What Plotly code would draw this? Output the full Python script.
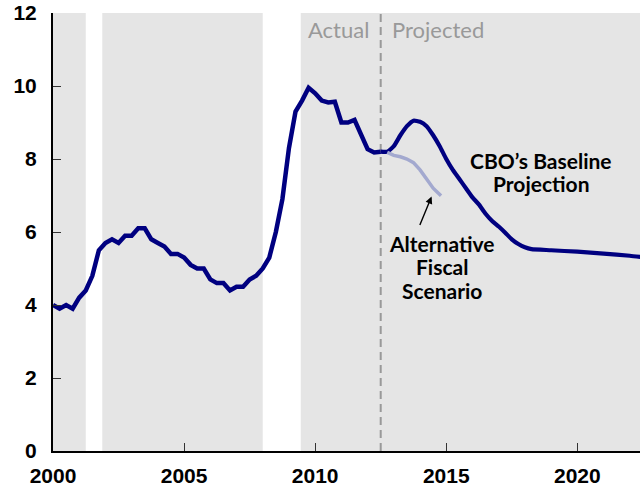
import plotly.graph_objects as go

# ---- data ----
actual_start_year = 2000
actual_rate = [
    4.0, 3.9, 4.0, 3.9,   # 2000
    4.2, 4.4, 4.8, 5.5,   # 2001
    5.7, 5.8, 5.7, 5.9,   # 2002
    5.9, 6.1, 6.1, 5.8,   # 2003
    5.7, 5.6, 5.4, 5.4,   # 2004
    5.3, 5.1, 5.0, 5.0,   # 2005
    4.7, 4.6, 4.6, 4.4,   # 2006
    4.5, 4.5, 4.7, 4.8,   # 2007
    5.0, 5.3, 6.0, 6.9,   # 2008
    8.3, 9.3, 9.6, 9.95,  # 2009
    9.8, 9.6, 9.55, 9.57, # 2010
    9.0, 9.0, 9.07, 8.7,  # 2011
    8.27, 8.18, 8.2,      # 2012
]
actual_x = [actual_start_year + i / 4 for i in range(len(actual_rate))]

baseline_x = [2012.5, 2012.75, 2013.0, 2013.25, 2013.5, 2013.75, 2014.0, 2014.25,
              2014.5, 2014.75, 2015.0, 2015.25, 2015.5, 2015.75, 2016.0, 2016.25,
              2016.5, 2016.75, 2017.0, 2017.25, 2017.5, 2017.75, 2018.0, 2018.25,
              2019.0, 2020.0, 2021.0, 2022.0, 2022.5]
baseline_rate = [8.2, 8.2, 8.35, 8.65, 8.9, 9.05, 9.02, 8.9,
                 8.65, 8.35, 8.0, 7.7, 7.45, 7.2, 6.95, 6.75,
                 6.5, 6.3, 6.15, 5.98, 5.8, 5.67, 5.58, 5.53,
                 5.5, 5.46, 5.41, 5.35, 5.31]

alt_x = [2012.75, 2013.0, 2013.25, 2013.5, 2013.75, 2014.0, 2014.25, 2014.5, 2014.8]
alt_rate = [8.18, 8.1, 8.06, 8.0, 7.9, 7.7, 7.45, 7.2, 6.99]

shaded_periods = [(2000.0, 2001.25), (2001.88, 2008.0), (2009.45, 2022.4)]
split_year = 2012.5

x_ticks = [2000, 2005, 2010, 2015, 2020]
y_ticks = [0, 2, 4, 6, 8, 10, 12]

baseline_label_lines = ["CBO’s Baseline", "Projection"]
alt_label_lines = ["Alternative", "Fiscal", "Scenario"]

NAVY = "#000080"
ALT = "#a3a9cf"
GRAY_BG = "#e5e5e5"

fig = go.Figure()

fig.add_trace(go.Scatter(x=actual_x, y=actual_rate, mode="lines",
                         line=dict(color=NAVY, width=4.5), hoverinfo="skip"))
fig.add_trace(go.Scatter(x=baseline_x, y=baseline_rate, mode="lines",
                         line=dict(color=NAVY, width=4.2, shape="spline", smoothing=0.5),
                         hoverinfo="skip"))
fig.add_trace(go.Scatter(x=alt_x, y=alt_rate, mode="lines",
                         line=dict(color=ALT, width=3.5), hoverinfo="skip"))

for x0, x1 in shaded_periods:
    fig.add_shape(type="rect", x0=x0, x1=x1, y0=0, y1=12, xref="x", yref="y",
                  fillcolor=GRAY_BG, line=dict(width=0), layer="below")

fig.add_shape(type="line", x0=split_year, x1=split_year, y0=0, y1=12,
              xref="x", yref="y", line=dict(color="#999999", width=2, dash="8px,5px"),
              layer="below")

fig.add_annotation(x=split_year, y=11.55, xref="x", yref="y", text="Actual",
                   showarrow=False, xanchor="right", xshift=-10,
                   font=dict(family="Lato", size=22, color="#999999"))
fig.add_annotation(x=split_year, y=11.55, xref="x", yref="y", text="Projected",
                   showarrow=False, xanchor="left", xshift=9,
                   font=dict(family="Lato", size=22, color="#999999"))

label_font = dict(family="Lato", size=21, color="#000000", weight="bold")
for line_text, yv in zip(baseline_label_lines, [7.97, 7.33]):
    fig.add_annotation(x=2018.62, y=yv, xref="x", yref="y", text=line_text,
                       showarrow=False, font=label_font)
for line_text, yv in zip(alt_label_lines, [5.69, 5.05, 4.41]):
    fig.add_annotation(x=2014.82, y=yv, xref="x", yref="y", text=line_text,
                       showarrow=False, font=label_font)

fig.add_annotation(x=2014.44, y=6.97, ax=2013.97, ay=6.15, xref="x", yref="y",
                   axref="x", ayref="y", text="", showarrow=True,
                   arrowhead=2, arrowsize=1, arrowwidth=1.4, arrowcolor="#000000")

tick_font = dict(family="Liberation Sans", size=21, color="#000000", weight="bold")
fig.update_xaxes(range=[2000, 2022.39], tickvals=x_ticks, ticktext=[str(v) for v in x_ticks],
                 ticks="inside", ticklen=8, tickwidth=1.2, tickcolor="#333333",
                 showline=True, linecolor="#000000", linewidth=2, showgrid=False,
                 zeroline=False, ticklabelstandoff=5, ticklabeloverflow="allow",
                 automargin=False, tickfont=tick_font)
fig.update_yaxes(range=[0, 12], tickvals=y_ticks, ticktext=[str(v) for v in y_ticks],
                 ticks="inside", ticklen=8, tickwidth=1.2, tickcolor="#333333",
                 showline=True, linecolor="#000000", linewidth=2, showgrid=False,
                 zeroline=False, ticklabelstandoff=10, ticklabeloverflow="allow",
                 automargin=False, tickfont=tick_font)

fig.update_layout(width=640, height=489,
                  margin=dict(l=53, r=0, t=13, b=38, autoexpand=False),
                  paper_bgcolor="white", plot_bgcolor="white", showlegend=False)

# remove the default page margin so the figure sits at the window's top-left corner
fig.write_html("out.html", config={"displayModeBar": False},
               post_script="document.body.style.margin='0';document.body.style.overflow='hidden';")
